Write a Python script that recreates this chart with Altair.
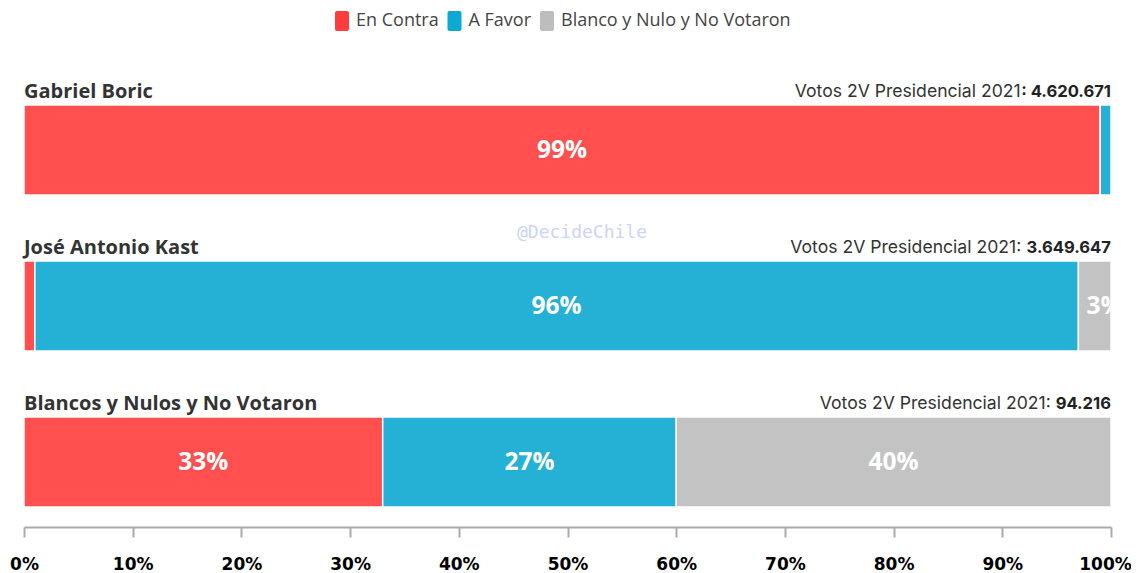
import altair as alt
import pandas as pd

candidates = ["Gabriel Boric", "José Antonio Kast", "Blancos y Nulos y No Votaron"]
categories = ["En Contra", "A Favor", "Blanco y Nulo y No Votaron"]
en_contra = [99, 1, 33]
a_favor = [1, 96, 27]
blanco = [0, 3, 40]
vote_prefix = ["Votos 2V Presidencial 2021", "Votos 2V Presidencial 2021: ", "Votos 2V Presidencial 2021: "]
vote_bold = [": 4.620.671", "3.649.647", "94.216"]
x_ticks = [0, 10, 20, 30, 40, 50, 60, 70, 80, 90, 100]

legend_colors = ["#ff3c3c", "#0ea9d2", "#bdbdbd"]

rows = []
for i, c in enumerate(candidates):
    for j, (cat, vals) in enumerate(zip(categories, [en_contra, a_favor, blanco])):
        rows.append({"candidate": c, "category": cat, "order": j, "value": vals[i]})
df = pd.DataFrame(rows)
df_c = pd.DataFrame({"candidate": candidates, "prefix": vote_prefix, "bold": vote_bold})

W, H = 1087, 468
px2pct = 100.0 / W

yscale = alt.Scale(domain=candidates, paddingInner=0.423, paddingOuter=0.2115)
xscale = alt.Scale(domain=[0, 100], nice=False)

base = alt.Chart(df).transform_filter("datum.value > 0").transform_stack(
    stack="value", groupby=["candidate"], as_=["start", "end"],
    sort=[alt.SortField("order", order="ascending")]
)

bars = base.mark_bar(stroke="white", strokeWidth=1.5, opacity=0.9).encode(
    y=alt.Y("candidate:N", scale=yscale, axis=None),
    x=alt.X("start:Q", scale=xscale,
            axis=alt.Axis(values=x_ticks, labelExpr="datum.value + '%'", title=None,
                          grid=False, offset=-13, domainColor="#aaaaaa", domainWidth=2,
                          tickColor="#aaaaaa", tickWidth=2, tickSize=10, labelFlush=False,
                          labelOffset={"condition": {"test": "datum.value == 100", "value": -6}, "value": 0},
                          labelFont="DejaVu Sans", labelFontWeight="bold",
                          labelFontSize=17, labelColor="#000000", labelPadding=19)),
    x2="end:Q",
    color=alt.Color("category:N", scale=alt.Scale(domain=categories, range=legend_colors),
                    legend=alt.Legend(title=None, orient="none", legendX=308, legendY=-61,
                                      direction="horizontal",
                                      symbolType="M-0.5,-1 H0.5 A0.2,0.2 0 0 1 0.7,-0.8 V0.8 A0.2,0.2 0 0 1 0.5,1 H-0.5 A0.2,0.2 0 0 1 -0.7,0.8 V-0.8 A0.2,0.2 0 0 1 -0.5,-1 Z",
                                      symbolSize=400, symbolStrokeWidth=0, symbolOpacity=1,
                                      labelFont="Open Sans", labelFontSize=18, labelColor="#444444",
                                      labelLimit=400, labelOffset=4, columnPadding=5.5)),
    order=alt.Order("order:Q"),
)

labels = base.transform_filter("datum.value >= 3").transform_calculate(
    pos="max((datum.start + datum.end) / 2, datum.start + 2.4)",
    lbl="datum.value + '%'"
).mark_text(color="white", font="Open Sans", fontWeight="bold", fontSize=24.5,
            baseline="middle", dy=1, clip=True).encode(
    y=alt.Y("candidate:N", scale=yscale),
    x=alt.X("pos:Q", scale=xscale),
    text="lbl:N",
)

titles = alt.Chart(df_c).transform_calculate(x0="0").mark_text(
    align="left", baseline="alphabetic", dy=-52, font="Open Sans", fontWeight="bold",
    fontSize=20, color="#333333").encode(
    y=alt.Y("candidate:N", scale=yscale),
    x=alt.X("x0:Q", scale=xscale),
    text="candidate:N",
)

k = 16.6 / 17.0
D, D1, P, C, S, SN = 11.0 * k, 7.5 * k, 4.7 * k, 5.0 * k, 4.6 * k, 5.4
right_bold = alt.Chart(df_c).transform_calculate(x1="100").mark_text(
    align="right", baseline="alphabetic", dy=-53, font="Inter", fontWeight="bold",
    fontSize=16.6, color="#222222").encode(
    y=alt.Y("candidate:N", scale=yscale),
    x=alt.X("x1:Q", scale=xscale),
    text="bold:N",
)
right_norm = alt.Chart(df_c).transform_calculate(
    nd="length(split(datum.bold, '.')) - 1",
    n1="length(split(datum.bold, '1')) - 1",
    nc="indexof(datum.bold, ':') >= 0 ? 1 : 0",
    ns="length(split(datum.bold, ' ')) - 1",
    nt="substring(datum.prefix, length(datum.prefix) - 1) == ' ' ? 1 : 0",
).transform_calculate(
    ndig="length(datum.bold) - datum.nd - datum.nc - datum.ns - datum.n1",
).transform_calculate(
    x2p=f"100 - (datum.ndig * {D} + datum.n1 * {D1} + datum.nd * {P} + datum.nc * {C} + datum.ns * {S} + datum.nt * {SN}) * {px2pct}"
).mark_text(
    align="right", baseline="alphabetic", dy=-53, font="Inter", fontWeight="normal",
    fontSize=17.6, color="#333333").encode(
    y=alt.Y("candidate:N", scale=yscale),
    x=alt.X("x2p:Q", scale=xscale),
    text="prefix:N",
)

watermark = alt.Chart(df_c).transform_filter("datum.candidate == 'Gabriel Boric'").mark_text(
    font="DejaVu Sans Mono", fontSize=18, color="#c8d6f7", align="center", baseline="middle"
).encode(
    x=alt.value(558), y=alt.value(161), text=alt.value("@DecideChile")
)

chart = alt.layer(bars, labels, titles, right_norm, right_bold, watermark).properties(
    width=W, height=H,
    padding={"left": 16, "top": 64, "right": 20, "bottom": 33},
    autosize=alt.AutoSizeParams(type="none"),
).configure_view(stroke=None)

chart.save("out.html", embed_options={"renderer": "svg", "actions": False})
